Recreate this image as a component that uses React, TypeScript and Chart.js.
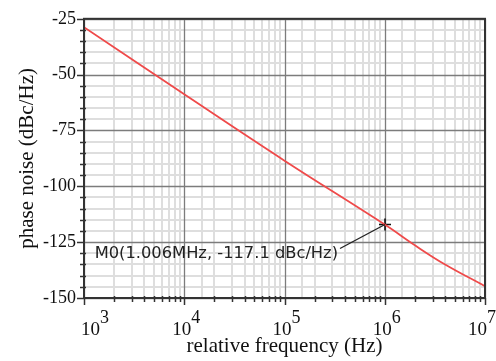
import React, { useEffect, useRef } from "react";
import { Chart, registerables } from "chart.js";

Chart.register(...registerables);

// data
const freqHz = [1e3, 1e4, 1e5, 1e6, 2e6, 4e6, 1e7];
const phaseNoise = [-28.8, -58.8, -88.5, -117.1, -126.4, -135.0, -144.7];
const markerFreq = [1.006e6];
const markerValue = [-117.1];
const markerLabel = "M0(1.006MHz, -117.1 dBc/Hz)";
const xExponents = [3, 4, 5, 6, 7];
const yMin = -150;
const yMax = -25;
const yMajorStep = 25;
const yMinorStep = 5;
const xTitle = "relative frequency (Hz)";
const yTitle = "phase noise (dBc/Hz)";

const SERIF = "'Liberation Serif', 'Times New Roman', serif";
const SANS = "'DejaVu Sans', Verdana, sans-serif";

const isDecade = (v: number) => Math.abs(Math.log10(v) - Math.round(Math.log10(v))) < 1e-9;

const majorGridPlugin = {
  id: "majorGrid",
  beforeDatasetsDraw(chart: any) {
    const { ctx, chartArea: ca, scales } = chart;
    ctx.save();
    ctx.strokeStyle = "#7c7c7c";
    ctx.lineWidth = 1.3;
    xExponents.forEach((e) => {
      const px = Math.round(scales.x.getPixelForValue(Math.pow(10, e))) + 0.5;
      ctx.beginPath();
      ctx.moveTo(px, ca.top);
      ctx.lineTo(px, ca.bottom);
      ctx.stroke();
    });
    for (let v = yMin; v <= yMax; v += yMajorStep) {
      const py = Math.round(scales.y.getPixelForValue(v)) + 0.5;
      ctx.beginPath();
      ctx.moveTo(ca.left, py);
      ctx.lineTo(ca.right, py);
      ctx.stroke();
    }
    ctx.restore();
  },
};

const decorPlugin = {
  id: "decor",
  afterDatasetsDraw(chart: any) {
    const { ctx, chartArea: ca, scales } = chart;
    const xs = scales.x;
    const ys = scales.y;
    ctx.save();
    // frame
    ctx.strokeStyle = "#333";
    ctx.lineWidth = 2;
    ctx.strokeRect(ca.left, ca.top, ca.right - ca.left, ca.bottom - ca.top);

    // y ticks
    ctx.lineWidth = 1.5;
    ctx.strokeStyle = "#333";
    for (let v = yMin; v <= yMax; v += yMinorStep) {
      const py = Math.round(ys.getPixelForValue(v)) + 0.5;
      ctx.beginPath();
      if (v % yMajorStep === 0) {
        ctx.moveTo(ca.left - 7, py);
        ctx.lineTo(ca.left, py);
      } else {
        ctx.moveTo(ca.left - 4, py);
        ctx.lineTo(ca.left + 2, py);
      }
      ctx.stroke();
    }
    // x ticks
    for (let e = xExponents[0]; e < xExponents[xExponents.length - 1]; e++) {
      for (let m = 1; m <= 9; m++) {
        const px = Math.round(xs.getPixelForValue(m * Math.pow(10, e))) + 0.5;
        ctx.beginPath();
        if (m === 1) {
          ctx.moveTo(px, ca.bottom);
          ctx.lineTo(px, ca.bottom + 7);
        } else {
          ctx.moveTo(px, ca.bottom - 2);
          ctx.lineTo(px, ca.bottom + 4);
        }
        ctx.stroke();
      }
    }
    {
      const px = Math.round(xs.getPixelForValue(Math.pow(10, xExponents[xExponents.length - 1]))) + 0.5;
      ctx.beginPath();
      ctx.moveTo(px, ca.bottom);
      ctx.lineTo(px, ca.bottom + 7);
      ctx.stroke();
    }

    // x tick labels 10^n
    ctx.fillStyle = "#111";
    ctx.textBaseline = "alphabetic";
    xExponents.forEach((e, i) => {
      const pos = xs.getPixelForValue(Math.pow(10, e));
      ctx.font = `19px ${SERIF}`;
      const base = "10";
      const wb = ctx.measureText(base).width;
      ctx.font = `18px ${SERIF}`;
      const ex = String(e);
      const we = ctx.measureText(ex).width;
      const w = wb + we;
      let left = pos - w / 2 + 2;
      if (i === 0) left = pos - 3;
      if (i === xExponents.length - 1) left = chart.width - w;
      ctx.font = `19px ${SERIF}`;
      ctx.textAlign = "left";
      ctx.fillText(base, left, ca.bottom + 37);
      ctx.font = `18px ${SERIF}`;
      ctx.fillText(ex, left + wb, ca.bottom + 25);
    });

    // marker annotation
    const meta = chart.getDatasetMeta(1);
    const pt = meta && meta.data && meta.data[0];
    if (pt) {
      const mx = pt.x;
      const my = pt.y;
      ctx.strokeStyle = "#222";
      ctx.lineWidth = 1.3;
      ctx.beginPath();
      ctx.moveTo(mx, my);
      ctx.lineTo(mx - 45, my + 24);
      ctx.stroke();
      ctx.font = `16.3px ${SANS}`;
      ctx.textAlign = "right";
      ctx.textBaseline = "middle";
      ctx.fillStyle = "#222";
      ctx.fillText(markerLabel, mx - 47, my + 29);
    }
    ctx.restore();
  },
};

export default function App() {
  const ref = useRef<HTMLCanvasElement | null>(null);
  useEffect(() => {
    if (!ref.current) return;
    const chart = new Chart(ref.current, {
      type: "line",
      data: {
        datasets: [
          {
            data: freqHz.map((f, i) => ({ x: f, y: phaseNoise[i] })),
            borderColor: "#ef4a4a",
            borderWidth: 1.8,
            pointRadius: 0,
            tension: 0.4,
            fill: false,
          },
          {
            data: markerFreq.map((f, i) => ({ x: f, y: markerValue[i] })),
            showLine: false,
            pointStyle: "cross",
            pointRadius: 6,
            borderColor: "#111",
            backgroundColor: "#111",
            borderWidth: 1.6,
          },
        ],
      },
      options: {
        animation: false,
        responsive: true,
        maintainAspectRatio: false,
        layout: { padding: { top: 14, right: 11, left: 0, bottom: 0 } },
        plugins: { legend: { display: false }, tooltip: { enabled: false } },
        scales: {
          x: {
            type: "logarithmic",
            min: Math.pow(10, xExponents[0]),
            max: Math.pow(10, xExponents[xExponents.length - 1]),
            afterFit: (s: any) => {
              s.height = 63;
            },
            border: { display: false },
            grid: {
              drawTicks: false,
              color: (c: any) => (c.tick && isDecade(c.tick.value) ? "rgba(0,0,0,0)" : "#dedede"),
              lineWidth: 2,
            },
            ticks: { autoSkip: false, callback: () => "" },
            title: {
              display: true,
              text: xTitle,
              color: "#111",
              font: { family: SERIF, size: 21 },
              padding: { top: 0, bottom: 2 },
            },
          },
          y: {
            min: yMin,
            max: yMax,
            afterFit: (s: any) => {
              s.width = 84;
            },
            border: { display: false },
            grid: {
              drawTicks: false,
              color: (c: any) => (c.tick && c.tick.value % yMajorStep === 0 ? "rgba(0,0,0,0)" : "#dedede"),
              lineWidth: 2,
            },
            ticks: {
              stepSize: yMinorStep,
              autoSkip: false,
              padding: 8,
              color: "#111",
              font: { family: SERIF, size: 18 },
              callback: (v: any) => (Number(v) % yMajorStep === 0 ? String(v) : ""),
            },
            title: {
              display: true,
              text: yTitle,
              color: "#111",
              font: { family: SERIF, size: 21 },
              padding: { top: 15, bottom: 0 },
            },
          },
        },
      },
      plugins: [majorGridPlugin, decorPlugin],
    } as any);
    return () => chart.destroy();
  }, []);
  return (
    <div style={{ position: "absolute", left: 0, top: 0, width: 496, height: 361, background: "#fff" }}>
      <canvas ref={ref} />
    </div>
  );
}
